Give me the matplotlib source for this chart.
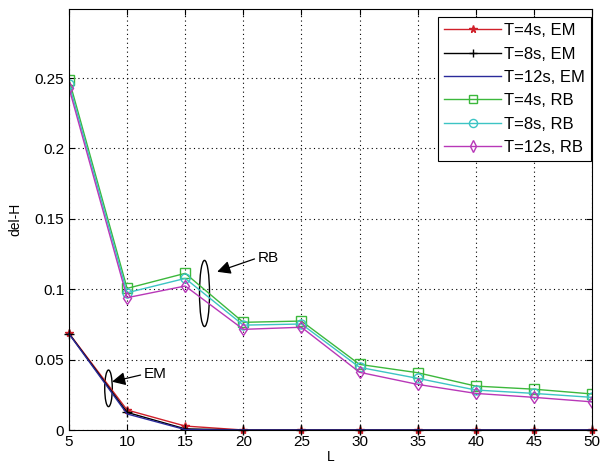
import numpy as np
import matplotlib.pyplot as plt
from matplotlib.patches import Ellipse

plt.rcParams['font.family'] = ['Liberation Sans', 'DejaVu Sans']

L = [5, 10, 15, 20, 25, 30, 35, 40, 45, 50]

em_4 = [0.0687, 0.0142, 0.0028, 0, 0, 0, 0, 0, 0, 0]
em_8 = [0.0685, 0.0125, 0.0008, 0, 0, 0, 0, 0, 0, 0]
em_12 = [0.0683, 0.0114, 0.0003, 0, 0, 0, 0, 0, 0, 0]

rb_4 = [0.249, 0.1006, 0.1113, 0.0765, 0.0774, 0.0466, 0.0407, 0.0312, 0.0290, 0.0256]
rb_8 = [0.246, 0.0975, 0.1077, 0.0745, 0.0753, 0.0445, 0.0367, 0.0284, 0.0260, 0.0232]
rb_12 = [0.243, 0.0940, 0.1023, 0.0715, 0.0730, 0.0410, 0.0324, 0.0260, 0.0232, 0.0200]

fig = plt.figure(figsize=(6.01, 4.7), dpi=100)
ax = fig.add_axes([0.1148, 0.0851, 0.8702, 0.8949])

ax.plot(L, em_4, color='#d0202a', marker='*', ms=6, lw=1, clip_on=False, label='T=4s, EM')
ax.plot(L, em_8, color='k', marker='+', ms=7, lw=1, clip_on=False, label='T=8s, EM')
ax.plot(L, em_12, color='#2a2a9a', lw=1, clip_on=False, label='T=12s, EM')
ax.plot(L, rb_4, color='#3cb83c', marker='s', ms=6.5, mfc='none', lw=1, label='T=4s, RB')
ax.plot(L, rb_8, color='#3cc4c4', marker='o', ms=6.5, mfc='none', lw=1, label='T=8s, RB')
ax.plot(L, rb_12, color='#b838b8', marker='d', ms=6.5, mfc='none', lw=1, label='T=12s, RB')

# ellipses + arrows
arrow = dict(arrowstyle='-|>', color='k', lw=0.9, mutation_scale=20,
             shrinkA=0, shrinkB=0, relpos=(0, 0.5))
ax.add_patch(Ellipse((8.4, 0.0296), 0.65, 0.026, fill=False, ec='k', lw=1))
ax.annotate('EM', xy=(8.7, 0.0343), xytext=(11.4, 0.0395), fontsize=11,
            ha='left', va='center', arrowprops=arrow)
ax.add_patch(Ellipse((16.66, 0.097), 0.86, 0.047, fill=False, ec='k', lw=1))
ax.annotate('RB', xy=(17.75, 0.1124), xytext=(21.2, 0.1222), fontsize=11,
            ha='left', va='center', arrowprops=arrow)

ax.set_xlim(5, 50)
ax.set_ylim(0, 0.2988)
ax.set_xticks(np.arange(5, 51, 5))
ax.set_yticks([0, 0.05, 0.1, 0.15, 0.2, 0.25])
ax.set_yticklabels(['0', '0.05', '0.1', '0.15', '0.2', '0.25'])
ax.tick_params(direction='in', top=True, right=True, labelsize=11, length=4)
ax.grid(True, color='k', linestyle=(0, (1, 3)), lw=0.8)
ax.set_xlabel('L', fontsize=10, labelpad=1)
ax.set_ylabel('del-H', fontsize=10, labelpad=9)

leg = ax.legend(loc='upper right', bbox_to_anchor=(0.998, 0.981), fontsize=12,
                fancybox=False, framealpha=1, edgecolor='k', borderaxespad=0,
                handlelength=3.4, labelspacing=0.5, handletextpad=0.2,
                borderpad=0.35, markerscale=0.9)
leg.get_frame().set_linewidth(0.8)

fig.savefig('out.png', dpi=100)
